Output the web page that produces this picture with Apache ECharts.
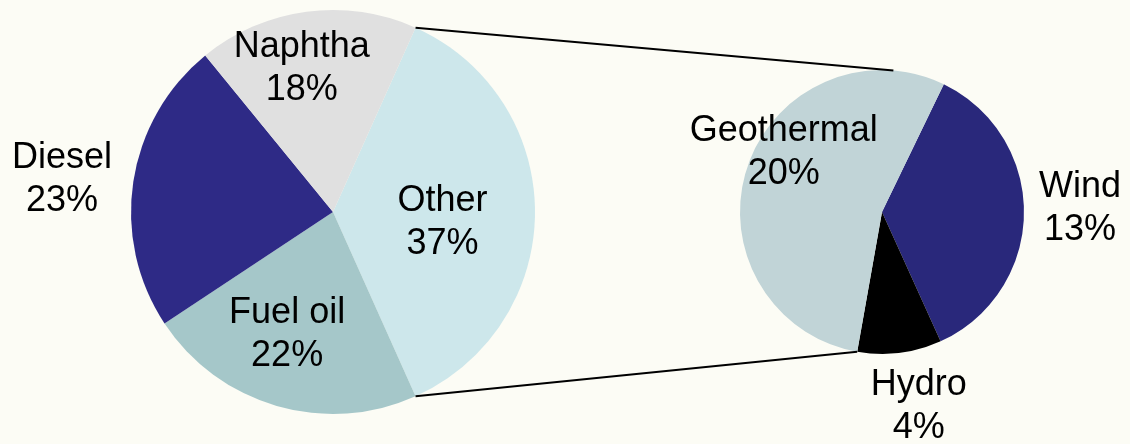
<!DOCTYPE html>
<html>
<head>
<meta charset="utf-8">
<script src="https://cdn.jsdelivr.net/npm/echarts@6/dist/echarts.min.js"></script>
<style>
  html, body { margin: 0; padding: 0; background: #fcfcf5; }
  #chart { width: 1130px; height: 444px; }
</style>
</head>
<body>
<div id="chart"></div>
<script>
// main pie (share of total, %)
var mainNames = ['Other', 'Fuel oil', 'Diesel', 'Naphtha'];
var mainValues = [36.6, 22.4, 23.4, 17.6];
// breakdown of "Other" (share of total, %)
var subNames = ['Wind', 'Hydro', 'Geothermal'];
var subValues = [13.2, 3.5, 19.9];

var mainColors = ['#cde7eb', '#a5c7c9', '#2e2a86', '#e0e0e0'];
var subColors = ['#29287b', '#000000', '#c1d4d7'];

// geometry
var mainC = [333, 212], mainR = 202;
var subC = [882, 212], subR = 142;
var subStart = 64.2;
// label placement: [angle deg, distance from pie centre]
var mainLabelPolar = [[-5.7, 110], [-110.5, 131], [173.1, 273], [102.3, 147]];
var subLabelPolar = [[1.1, 198], [-79.3, 198], [148.7, 115]];

var total = mainValues.reduce(function (a, b) { return a + b; }, 0);
var subTotal = subValues.reduce(function (a, b) { return a + b; }, 0);
var otherHalf = mainValues[0] / total * 180;

function polar(c, deg, r) {
  var a = deg * Math.PI / 180;
  return [c[0] + r * Math.cos(a), c[1] - r * Math.sin(a)];
}

var labelStyle = {
  show: true,
  position: 'inside',
  color: '#000',
  fontSize: 36,
  lineHeight: 43,
  fontFamily: 'Liberation Sans, Arial, sans-serif',
  formatter: function (p) {
    return p.name + '\n' + Math.round(p.value / total * 100) + '%';
  }
};

var myChart = echarts.init(document.getElementById('chart'));

var topA = polar(mainC, otherHalf, mainR);
var topB = polar(subC, 85.4, subR);
var botA = polar(mainC, -otherHalf, mainR);
var botB = polar(subC, subStart - (subValues[0] + subValues[1]) / subTotal * 360, subR);

var option = {
  backgroundColor: '#fcfcf5',
  animation: false,
  graphic: [
    { type: 'line', shape: { x1: topA[0], y1: topA[1], x2: topB[0], y2: topB[1] }, style: { stroke: '#000', lineWidth: 2 }, z: 10 },
    { type: 'line', shape: { x1: botA[0], y1: botA[1], x2: botB[0], y2: botB[1] }, style: { stroke: '#000', lineWidth: 2 }, z: 10 }
  ],
  series: [
    {
      type: 'pie',
      center: mainC,
      radius: mainR,
      startAngle: otherHalf,
      clockwise: true,
      silent: true,
      avoidLabelOverlap: false,
      emphasis: { disabled: true },
      itemStyle: { borderWidth: 0 },
      label: labelStyle,
      labelLine: { show: false },
      labelLayout: function (p) {
        var pt = polar(mainC, mainLabelPolar[p.dataIndex][0], mainLabelPolar[p.dataIndex][1]);
        return { x: pt[0], y: pt[1], align: 'center', verticalAlign: 'middle' };
      },
      data: mainNames.map(function (n, i) {
        return { name: n, value: mainValues[i], itemStyle: { color: mainColors[i] } };
      })
    },
    {
      type: 'pie',
      center: subC,
      radius: subR,
      startAngle: subStart,
      clockwise: true,
      silent: true,
      avoidLabelOverlap: false,
      emphasis: { disabled: true },
      itemStyle: { borderWidth: 0 },
      label: labelStyle,
      labelLine: { show: false },
      labelLayout: function (p) {
        var pt = polar(subC, subLabelPolar[p.dataIndex][0], subLabelPolar[p.dataIndex][1]);
        return { x: pt[0], y: pt[1], align: 'center', verticalAlign: 'middle' };
      },
      data: subNames.map(function (n, i) {
        return { name: n, value: subValues[i], itemStyle: { color: subColors[i] } };
      })
    }
  ]
};

myChart.setOption(option);
</script>
</body>
</html>
